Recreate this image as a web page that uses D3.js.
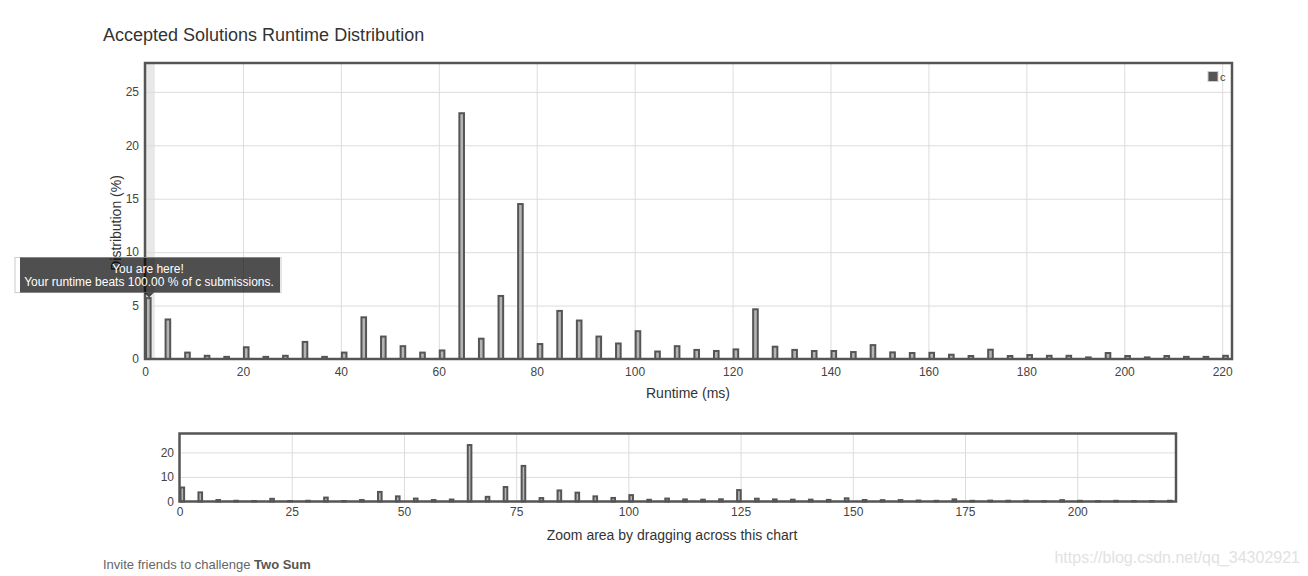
<!DOCTYPE html>
<html>
<head>
<meta charset="utf-8">
<script src="https://cdn.jsdelivr.net/npm/d3@7"></script>
<style>
  body { margin: 0; background: #fff; }
  svg { display: block; font-family: "Liberation Sans", Arial, sans-serif; }
</style>
</head>
<body>
<svg id="chart" width="1308" height="576"></svg>
<script>
// ---- data ----
const runtimes = [0, 4, 8, 12, 16, 20, 24, 28, 32, 36, 40, 44, 48, 52, 56, 60, 64, 68, 72, 76,
  80, 84, 88, 92, 96, 100, 104, 108, 112, 116, 120, 124, 128, 132, 136, 140, 144, 148, 152, 156,
  160, 164, 168, 172, 176, 180, 184, 188, 192, 196, 200, 204, 208, 212, 216, 220];
const distribution = [5.7, 3.7, 0.6, 0.3, 0.2, 1.1, 0.2, 0.3, 1.6, 0.2, 0.6, 3.9, 2.1, 1.2, 0.6, 0.8,
  23.0, 1.9, 5.9, 14.5, 1.4, 4.5, 3.6, 2.1, 1.45, 2.6, 0.7, 1.2, 0.85, 0.75, 0.9, 4.65, 1.15, 0.85,
  0.75, 0.75, 0.65, 1.3, 0.62, 0.56, 0.58, 0.4, 0.28, 0.87, 0.28, 0.37, 0.3, 0.3, 0.15, 0.56, 0.28,
  0.15, 0.28, 0.2, 0.2, 0.3];
const mainXTicks = [0, 20, 40, 60, 80, 100, 120, 140, 160, 180, 200, 220];
const mainYTicks = [0, 5, 10, 15, 20, 25];
const ctxXTicks = [0, 25, 50, 75, 100, 125, 150, 175, 200];
const ctxYTicks = [0, 10, 20];
const seriesName = "c";
const myRuntime = 0;
const beatsPct = "100.00";

const data = runtimes.map((r, i) => ({ r, v: distribution[i] }));

const svg = d3.select("#chart");
const BAR_FILL = "#b4b4b4", BAR_STROKE = "#555", FRAME = "#555", GRID = "#dcdcdc", TXT = "#444";

// title
svg.append("text").attr("x", 103).attr("y", 41)
  .attr("font-size", 18).attr("fill", "#333")
  .text("Accepted Solutions Runtime Distribution");

function drawPanel(cfg) {
  const { left, top, right, bottom, xTicks, yTicks, xPad, yPad, barUnits } = cfg;
  const g = svg.append("g");
  const x = d3.scaleLinear().domain([0, 222]).range([left, right]);
  const y = d3.scaleLinear().domain([0, 27.7]).range([bottom, top]);

  if (cfg.highlight) {
    g.append("rect").attr("x", x(0)).attr("y", top)
      .attr("width", x(2) - x(0)).attr("height", bottom - top).attr("fill", "#e8e8e8");
  }
  // grid
  g.append("g").attr("transform", `translate(0,${bottom})`)
    .call(d3.axisBottom(x).tickValues(xTicks.filter(t => t > 0)).tickSize(-(bottom - top)).tickFormat(""))
    .call(s => s.select(".domain").remove())
    .call(s => s.selectAll("line").attr("stroke", GRID));
  g.append("g").attr("transform", `translate(${left},0)`)
    .call(d3.axisLeft(y).tickValues(yTicks.filter(t => t > 0)).tickSize(-(right - left)).tickFormat(""))
    .call(s => s.select(".domain").remove())
    .call(s => s.selectAll("line").attr("stroke", GRID));

  // bars
  g.append("g").selectAll("rect").data(data).join("rect")
    .attr("x", d => x(d.r) + 1)
    .attr("y", d => y(d.v))
    .attr("width", d => x(d.r + barUnits) - x(d.r) - 2)
    .attr("height", d => y(0) - y(d.v))
    .attr("fill", BAR_FILL).attr("stroke", BAR_STROKE).attr("stroke-width", 2);

  // frame
  g.append("rect").attr("x", left).attr("y", top)
    .attr("width", right - left).attr("height", bottom - top)
    .attr("fill", "none").attr("stroke", FRAME).attr("stroke-width", 2.5);

  // tick labels
  g.append("g").attr("transform", `translate(0,${bottom})`)
    .call(d3.axisBottom(x).tickValues(xTicks).tickSize(0).tickPadding(xPad))
    .call(s => s.select(".domain").remove())
    .call(s => s.selectAll("text").attr("font-size", 12).attr("fill", TXT)
      .attr("font-family", "Liberation Sans, Arial, sans-serif"));
  g.append("g").attr("transform", `translate(${left},0)`)
    .call(d3.axisLeft(y).tickValues(yTicks).tickSize(0).tickPadding(yPad))
    .call(s => s.select(".domain").remove())
    .call(s => s.selectAll("text").attr("font-size", 12).attr("fill", TXT)
      .attr("font-family", "Liberation Sans, Arial, sans-serif"));
  return { x, y };
}

const main = drawPanel({ left: 145, top: 63, right: 1232, bottom: 359,
  xTicks: mainXTicks, yTicks: mainYTicks, xPad: 8.5, yPad: 6, barUnits: 1.35, highlight: true });
const ctx = drawPanel({ left: 179.5, top: 433.5, right: 1176, bottom: 501.5,
  xTicks: ctxXTicks, yTicks: ctxYTicks, xPad: 6, yPad: 5.5, barUnits: 1.25, highlight: false });

// axis titles
svg.append("text").attr("x", 688).attr("y", 398).attr("text-anchor", "middle")
  .attr("font-size", 14).attr("fill", "#333").text("Runtime (ms)");
svg.append("text").attr("transform", "translate(121,223) rotate(-90)").attr("text-anchor", "middle")
  .attr("font-size", 14).attr("fill", "#333").text("Distribution (%)");
svg.append("text").attr("x", 672).attr("y", 540).attr("text-anchor", "middle")
  .attr("font-size", 14).attr("fill", "#333").text("Zoom area by dragging across this chart");

// legend
svg.append("rect").attr("x", 1208).attr("y", 71.5).attr("width", 10).attr("height", 10)
  .attr("fill", "#555").attr("stroke", "#ccc").attr("stroke-width", 1);
svg.append("text").attr("x", 1220).attr("y", 81).attr("font-size", 11).attr("fill", "#444").text(seriesName);

// tooltip
const tipX = main.x(myRuntime) + 4;
const tip = svg.append("g");
tip.append("rect").attr("x", 15).attr("y", 257.5).attr("width", 266).attr("height", 35)
  .attr("fill", "none").attr("stroke", "#ccc").attr("stroke-width", 1);
tip.append("rect").attr("x", 20).attr("y", 257.5).attr("width", 260).attr("height", 35)
  .attr("fill", "rgba(0,0,0,0.69)");
tip.append("path").attr("d", `M${tipX - 5},292.5 L${tipX},297.5 L${tipX + 5},292.5 Z`)
  .attr("fill", "rgba(0,0,0,0.69)");
tip.append("text").attr("x", 148).attr("y", 272.5).attr("text-anchor", "middle")
  .attr("font-size", 12).attr("fill", "#fff").text("You are here!");
tip.append("text").attr("x", 149).attr("y", 285.5).attr("text-anchor", "middle")
  .attr("font-size", 12).attr("fill", "#fff")
  .text(`Your runtime beats ${beatsPct} % of ${seriesName} submissions.`);

// footer
const foot = svg.append("text").attr("x", 103).attr("y", 569).attr("font-size", 13).attr("fill", "#666");
foot.append("tspan").text("Invite friends to challenge ");
foot.append("tspan").attr("font-weight", "bold").attr("fill", "#555").text("Two Sum");

// watermark
svg.append("text").attr("x", 1300).attr("y", 563).attr("text-anchor", "end")
  .attr("font-size", 16).attr("fill", "#e2e2e2").text("https://blog.csdn.net/qq_34302921");
</script>
</body>
</html>
